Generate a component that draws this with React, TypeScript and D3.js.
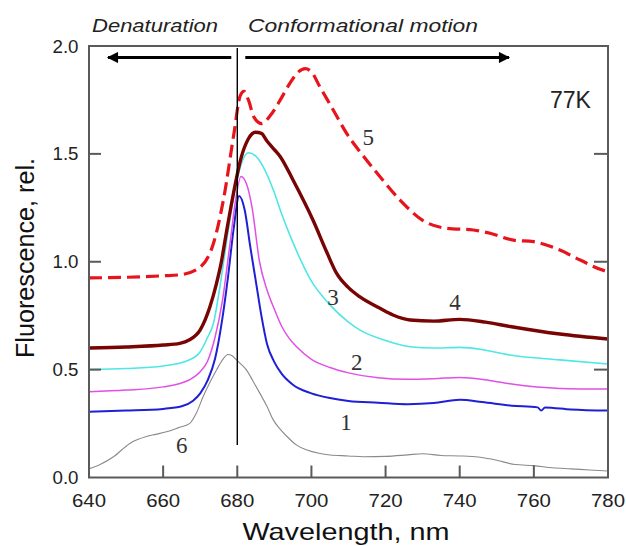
import React from "react";
import * as d3 from "d3";

// ---- data ----
const xTicks = [640, 660, 680, 700, 720, 740, 760, 780];
const yTicks = [0.0, 0.5, 1.0, 1.5, 2.0];

const x1 = [640,650,660,665,668,670,672,674,676,677.5,679,680.5,682,683.5,685,686.5,688,690,692,695,700,705,710,718,726,733,740,746,754,761,762,763,770,780];
const y1 = [0.305,0.31,0.318,0.33,0.355,0.39,0.45,0.55,0.74,0.93,1.15,1.305,1.24,1.07,0.91,0.75,0.62,0.535,0.48,0.43,0.39,0.368,0.355,0.347,0.34,0.345,0.36,0.35,0.333,0.325,0.31,0.325,0.315,0.31];

const x2 = [640,650,660,667,670,672,674,676,678,679.5,681,682.5,684,686,688,690,692,694,696,700,705,710,718,726,733,740,748,754,767,780];
const y2 = [0.398,0.405,0.42,0.452,0.49,0.54,0.65,0.82,1.08,1.28,1.395,1.36,1.25,1.0,0.87,0.78,0.70,0.645,0.606,0.548,0.51,0.485,0.462,0.455,0.458,0.464,0.45,0.433,0.413,0.41];

const x3 = [640,650,660,667,670,672,673.6,675,677,679,681,683,685,687,690,692,695,700,705,710,713,720,726.6,733,740,747,753.6,767,780];
const y3 = [0.50,0.505,0.517,0.545,0.583,0.65,0.716,0.85,1.08,1.30,1.45,1.505,1.49,1.44,1.32,1.22,1.09,0.91,0.80,0.72,0.684,0.635,0.606,0.60,0.603,0.59,0.568,0.545,0.526];

const x4 = [640,650,660,664.5,667,670,672.6,674.4,675.6,677,679,681,683,684.9,686.5,688,690,691.6,695,700.5,704,706.8,710,713,718.5,722,726.6,733,740,747,753.6,767,780];
const y4 = [0.60,0.605,0.614,0.622,0.637,0.684,0.79,0.90,0.99,1.13,1.32,1.48,1.57,1.60,1.595,1.56,1.52,1.487,1.38,1.19,1.05,0.946,0.88,0.838,0.784,0.753,0.73,0.725,0.733,0.72,0.70,0.665,0.642];

const x5 = [640,650,660,664.8,670,673.6,676.4,679.1,680.8,681.8,683,684.5,686.6,689,691.6,694.3,696.5,698.3,700,702.3,706,709.5,714,718.5,723.9,730.2,736.5,743.7,748.2,754.5,759.9,767,772.5,778.8,780];
const y5 = [0.925,0.928,0.935,0.94,0.975,1.087,1.30,1.595,1.77,1.79,1.75,1.67,1.64,1.68,1.75,1.83,1.88,1.895,1.88,1.81,1.70,1.595,1.49,1.394,1.286,1.19,1.155,1.147,1.132,1.10,1.093,1.054,1.008,0.96,0.955];

const x6 = [640,643,646.6,651,655.5,658,660.9,664,667.2,669,670.8,672.6,674.4,676,677.5,678.5,679.8,681,682.5,684.3,686.1,688,689.7,691.5,693.4,696,698.8,702,705,710,714.1,720,726,730,735,740,745,750,755,760,765,770,775,780];
const y6 = [0.04,0.06,0.096,0.158,0.19,0.20,0.212,0.23,0.251,0.30,0.375,0.44,0.498,0.545,0.57,0.565,0.545,0.525,0.498,0.445,0.39,0.33,0.267,0.225,0.19,0.15,0.127,0.112,0.104,0.10,0.096,0.098,0.105,0.11,0.102,0.10,0.095,0.08,0.06,0.055,0.045,0.04,0.035,0.03];

const curveLabels = ["1", "2", "3", "4", "5", "6"];
const labelX = [709.3, 712.2, 705.8, 738.7, 715.3, 665];
const labelY = [0.22, 0.498, 0.80, 0.776, 1.54, 0.115];

// ---- layout ----
const W = 626, H = 546;
const L = 89, R = 608, T = 46, B = 477.5;

const xs = d3.scaleLinear().domain([640, 780]).range([L, R]);
const ys = d3.scaleLinear().domain([0, 2]).range([B, T]);

const series = [
  { xv: x6, yv: y6, color: "#8a8a8a", w: 1.1, dash: "" },
  { xv: x1, yv: y1, color: "#1f1fd6", w: 2, dash: "" },
  { xv: x2, yv: y2, color: "#e050e6", w: 1.5, dash: "" },
  { xv: x3, yv: y3, color: "#4fe6e6", w: 1.6, dash: "" },
  { xv: x4, yv: y4, color: "#780404", w: 3.4, dash: "" },
  { xv: x5, yv: y5, color: "#e8141c", w: 3.2, dash: "13,6" },
];

const line = d3
  .line<[number, number]>()
  .x((d) => xs(d[0]))
  .y((d) => ys(d[1]))
  .curve(d3.curveMonotoneX);

export default function App() {
  const axisColor = "#5a5a5a";
  const sans = "'Liberation Sans', Arial, sans-serif";
  const arrowY = 57.5;
  return (
    <svg
      width={W}
      height={H}
      style={{ position: "absolute", left: 0, top: 0, background: "#fff" }}
    >
      <defs>
        <clipPath id="plot">
          <rect x={L} y={T} width={R - L} height={B - T} />
        </clipPath>
        <marker id="ah" viewBox="0 0 10 10" refX="9" refY="5" markerWidth="5" markerHeight="4" orient="auto-start-reverse" markerUnits="strokeWidth">
          <path d="M0,0 L10,5 L0,10 z" fill="#000" />
        </marker>
      </defs>
      <rect width={W} height={H} fill="#fff" />

      <g clipPath="url(#plot)">
        {series.map((s, i) => (
          <path
            key={i}
            d={line(s.xv.map((v, j) => [v, s.yv[j]] as [number, number])) || ""}
            fill="none"
            stroke={s.color}
            strokeWidth={s.w}
            strokeDasharray={s.dash || undefined}
            strokeLinejoin="round"
          />
        ))}
      </g>

      {/* vertical marker line */}
      <line x1={xs(680)} x2={xs(680)} y1={T + 2} y2={445} stroke="#000" strokeWidth={1.4} />

      {/* arrows */}
      <line x1={xs(680) - 6} x2={108} y1={arrowY} y2={arrowY} stroke="#000" strokeWidth={2.8} markerEnd="url(#ah)" />
      <line x1={xs(680) + 8} x2={509} y1={arrowY} y2={arrowY} stroke="#000" strokeWidth={2.8} markerEnd="url(#ah)" />

      {/* frame */}
      <rect x={L} y={T} width={R - L} height={B - T} fill="none" stroke={axisColor} strokeWidth={2} />

      {/* x ticks */}
      {xTicks.map((t) => (
        <g key={t}>
          {t > 640 && t < 780 && (
            <line x1={xs(t)} x2={xs(t)} y1={B} y2={B - 12} stroke={axisColor} strokeWidth={2} />
          )}
          <text
            x={xs(t)}
            y={506.5}
            textAnchor="middle"
            fontFamily={sans}
            fontSize={19}
            fill="#222"
            textLength={34}
            lengthAdjust="spacingAndGlyphs"
          >
            {t}
          </text>
        </g>
      ))}

      {/* y ticks */}
      {yTicks.map((t) => (
        <g key={t}>
          {t > 0 && t < 2 && (
            <>
              <line x1={L} x2={L + 12} y1={ys(t)} y2={ys(t)} stroke={axisColor} strokeWidth={2} />
              <line x1={R} x2={R - 14} y1={ys(t)} y2={ys(t)} stroke={axisColor} strokeWidth={2} />
            </>
          )}
          <text
            x={78.5}
            y={ys(t) + 6.5}
            textAnchor="end"
            fontFamily={sans}
            fontSize={19}
            fill="#222"
            textLength={26}
            lengthAdjust="spacingAndGlyphs"
          >
            {t.toFixed(1)}
          </text>
        </g>
      ))}

      {/* axis titles */}
      <text
        x={346}
        y={540}
        textAnchor="middle"
        fontFamily={sans}
        fontSize={24}
        fill="#111"
        textLength={207}
        lengthAdjust="spacingAndGlyphs"
      >
        Wavelength, nm
      </text>
      <text
        transform="translate(34,258) rotate(-90)"
        textAnchor="middle"
        fontFamily={sans}
        fontSize={25}
        fill="#111"
        textLength={200}
        lengthAdjust="spacingAndGlyphs"
      >
        Fluorescence, rel.
      </text>

      {/* header texts */}
      <text x={92} y={31.5} fontFamily={sans} fontStyle="italic" fontSize={19} fill="#222" textLength={126} lengthAdjust="spacingAndGlyphs">
        Denaturation
      </text>
      <text x={248} y={31.5} fontFamily={sans} fontStyle="italic" fontSize={19} fill="#222" textLength={230} lengthAdjust="spacingAndGlyphs">
        Conformational motion
      </text>
      <text x={550} y={108} fontFamily={sans} fontSize={23} fill="#222" textLength={41} lengthAdjust="spacingAndGlyphs">
        77K
      </text>

      {/* curve labels */}
      {curveLabels.map((c, i) => (
        <text
          key={c}
          x={xs(labelX[i])}
          y={ys(labelY[i])}
          textAnchor="middle"
          fontFamily="'Liberation Serif', 'Times New Roman', serif"
          fontSize={23}
          fill="#333"
        >
          {c}
        </text>
      ))}
    </svg>
  );
}
